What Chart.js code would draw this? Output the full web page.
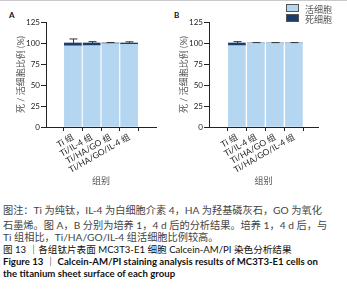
<!DOCTYPE html>
<html lang="zh">
<head>
<meta charset="UTF-8" />
<title>Calcein-AM/PI 染色分析</title>
<script src="https://cdn.jsdelivr.net/npm/chart.js"></script>
<style>
  body {
    margin: 0;
    width: 347px;
    height: 303px;
    position: relative;
    overflow: hidden;
    background: #fff;
    font-family: Lato, "Noto Sans CJK SC", sans-serif;
  }
  .topline { position: absolute; left: 0; top: 0; width: 347px; height: 1px; background: #c9c9c9; }
  .panel { position: absolute; top: 0; }
  .tag { position: absolute; font: bold 8px Lato, sans-serif; color: #111; }
  .legend { position: absolute; left: 286px; top: 4px; font-size: 9px; color: #555; }
  .legend div { height: 10px; line-height: 10px; white-space: nowrap; }
  .legend span.box { display: inline-block; width: 11px; height: 6px; border: 1px solid #555; margin-right: 6px; vertical-align: 1px; }
  .cap { position: absolute; left: 3px; font-size: 9.6px; line-height: 12px; color: #333; white-space: nowrap; }
  .cap.note { font-size: 10.2px; color: #444; }
  .cap.b { font-weight: bold; color: #111; }
</style>
</head>
<body>
  <div class="topline"></div>

  <div class="tag" style="left:9px; top:10px;">A</div>
  <div class="tag" style="left:174px; top:10px;">B</div>

  <canvas class="panel" id="chartA" width="170" height="190" style="left:0;"></canvas>
  <canvas class="panel" id="chartB" width="170" height="190" style="left:163px;"></canvas>

  <div class="legend">
    <div><span class="box" style="background:#b5d6f0;"></span>活细胞</div>
    <div><span class="box" style="background:#1b3d6d;"></span>死细胞</div>
  </div>

  <div class="cap note" style="top:204px;">图注：Ti 为纯钛，IL-4 为白细胞介素 4，HA 为羟基磷灰石，GO 为氧化</div>
  <div class="cap note" style="top:219px;">石墨烯。图 A，B 分别为培养 1，4 d 后的分析结果。培养 1，4 d 后，与</div>
  <div class="cap note" style="top:231px;">Ti 组相比，Ti/HA/GO/IL-4 组活细胞比例较高。</div>
  <div class="cap" style="top:244px; color:#111;">图 13 ｜各组钛片表面 MC3T3-E1 细胞 Calcein-AM/PI 染色分析结果</div>
  <div class="cap b" style="top:256px;">Figure 13 ｜ Calcein-AM/PI staining analysis results of MC3T3-E1 cells on</div>
  <div class="cap b" style="top:268px;">the titanium sheet surface of each group</div>

<script>
  // groups and tick values
  const groups = ['Ti 组', 'Ti/IL-4 组', 'Ti/HA/GO 组', 'Ti/HA/GO/IL-4 组'];
  const yTicks = [0, 25, 50, 75, 100, 125];

  // panel A (1 d)
  const liveA = [96.5, 97, 99.3, 98.5];
  const deadA = [3.5, 3, 0.7, 1.5];
  const errA = [4.8, 1.6, 0.6, 1.4];

  // panel B (4 d)
  const liveB = [97, 99.5, 99.5, 99.5];
  const deadB = [3, 0.5, 0.5, 0.5];
  const errB = [1.6, 0.5, 0.5, 0.5];

  const liveColor = '#b5d6f0';
  const deadColor = '#1b3d6d';
  const axisColor = '#222';
  const fontFamily = 'Lato, "Noto Sans CJK SC", sans-serif';

  // simple error bar on top of each stack
  const errorBars = {
    id: 'errorBars',
    afterDatasetsDraw(chart, args, opts) {
      const { ctx, scales: { x, y } } = chart;
      const live = chart.data.datasets[0].data;
      const dead = chart.data.datasets[1].data;
      ctx.save();
      ctx.strokeStyle = '#333';
      ctx.lineWidth = 1;
      opts.values.forEach((e, i) => {
        const px = Math.round(x.getPixelForValue(i)) + 0.5;
        const top = y.getPixelForValue(live[i].y + dead[i].y);
        const end = y.getPixelForValue(live[i].y + dead[i].y + e);
        ctx.beginPath();
        ctx.moveTo(px, top);
        ctx.lineTo(px, end);
        ctx.moveTo(px - 4, end);
        ctx.lineTo(px + 4, end);
        ctx.stroke();
      });
      ctx.restore();
    }
  };

  function makeChart(id, live, dead, err, xMin, xMax, rightPad) {
    const toPoints = arr => arr.map((v, i) => ({ x: i, y: v }));
    return new Chart(document.getElementById(id), {
      type: 'bar',
      data: {
        datasets: [
          { label: '活细胞', data: toPoints(live), backgroundColor: liveColor, barThickness: 17 },
          { label: '死细胞', data: toPoints(dead), backgroundColor: deadColor, barThickness: 17 }
        ]
      },
      options: {
        responsive: false,
        animation: false,
        layout: { padding: { top: 22, right: rightPad, bottom: 0, left: 0 } },
        plugins: {
          legend: { display: false },
          tooltip: { enabled: false },
          errorBars: { values: err }
        },
        scales: {
          x: {
            type: 'linear',
            stacked: true,
            min: xMin,
            max: xMax,
            afterBuildTicks: s => { s.ticks = groups.map((g, i) => ({ value: i })); },
            afterFit: s => { s.height = 63; },
            border: { color: axisColor, width: 1 },
            grid: { drawOnChartArea: false, tickLength: 4, color: axisColor },
            ticks: {
              autoSkip: false,
              minRotation: 30,
              maxRotation: 30,
              padding: 1,
              color: '#222',
              font: { family: fontFamily, size: 8.5 },
              callback: v => groups[v]
            },
            title: {
              display: true,
              text: '组别',
              color: '#555',
              font: { family: fontFamily, size: 9 },
              padding: { top: 2, bottom: 4 }
            }
          },
          y: {
            stacked: true,
            min: 0,
            max: 125,
            afterBuildTicks: s => { s.ticks = yTicks.map(v => ({ value: v })); },
            afterFit: s => { s.width = 46; },
            border: { color: axisColor, width: 1 },
            grid: { drawOnChartArea: false, tickLength: 5, color: axisColor },
            ticks: {
              padding: 1,
              color: '#222',
              font: { family: fontFamily, size: 8 }
            },
            title: {
              display: true,
              text: '死 / 活细胞比例 (%)',
              color: '#555',
              font: { family: fontFamily, size: 9 },
              padding: { top: 16, bottom: 0 }
            }
          }
        }
      },
      plugins: [errorBars]
    });
  }

  makeChart('chartA', liveA, deadA, errA, -0.7, 3.7, 14);
  makeChart('chartB', liveB, deadB, errB, -0.75, 3.55, 15);
</script>
</body>
</html>
